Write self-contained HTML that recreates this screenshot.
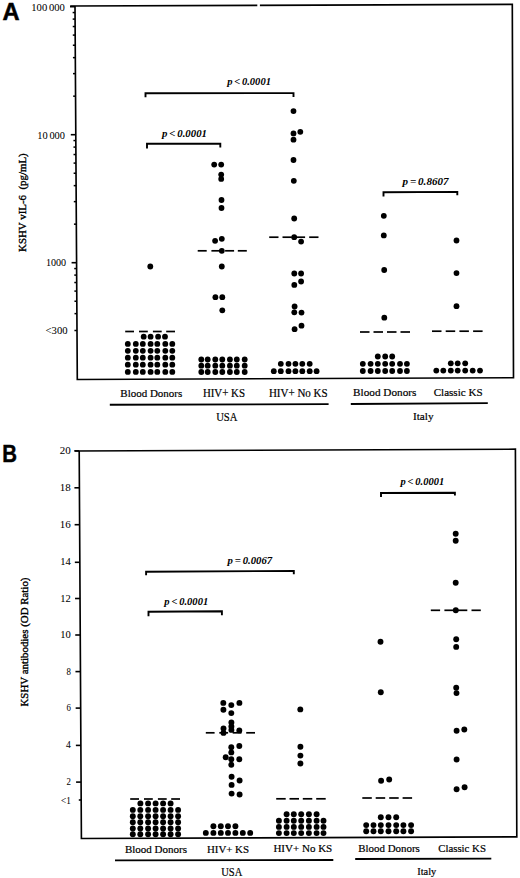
<!DOCTYPE html>
<html><head><meta charset="utf-8"><style>
html,body{margin:0;padding:0;background:#fff;}
svg{display:block;}
</style></head><body>
<svg width="520" height="878" viewBox="0 0 520 878">
<rect width="520" height="878" fill="#fff"/>
<polyline points="70.2,6.0 512.3,4.4 513.5,377.7 77.3,379.5 75.0,6.0" fill="none" stroke="#000" stroke-width="1.65" stroke-linejoin="miter"/>
<rect x="257.3" y="3" width="2.6" height="5" fill="#fff"/>
<line x1="70.00" y1="6.70" x2="75.00" y2="6.70" stroke="#000" stroke-width="1.6"/>
<line x1="70.79" y1="134.70" x2="75.79" y2="134.70" stroke="#000" stroke-width="1.6"/>
<line x1="71.58" y1="262.70" x2="76.58" y2="262.70" stroke="#000" stroke-width="1.6"/>
<line x1="73.94" y1="224.17" x2="76.34" y2="224.17" stroke="#000" stroke-width="1.5"/>
<line x1="73.80" y1="201.63" x2="76.20" y2="201.63" stroke="#000" stroke-width="1.5"/>
<line x1="73.71" y1="185.64" x2="76.11" y2="185.64" stroke="#000" stroke-width="1.5"/>
<line x1="73.63" y1="173.23" x2="76.03" y2="173.23" stroke="#000" stroke-width="1.5"/>
<line x1="73.57" y1="163.10" x2="75.97" y2="163.10" stroke="#000" stroke-width="1.5"/>
<line x1="73.51" y1="154.53" x2="75.91" y2="154.53" stroke="#000" stroke-width="1.5"/>
<line x1="73.47" y1="147.10" x2="75.87" y2="147.10" stroke="#000" stroke-width="1.5"/>
<line x1="73.43" y1="140.56" x2="75.83" y2="140.56" stroke="#000" stroke-width="1.5"/>
<line x1="73.16" y1="96.17" x2="75.56" y2="96.17" stroke="#000" stroke-width="1.5"/>
<line x1="73.02" y1="73.63" x2="75.42" y2="73.63" stroke="#000" stroke-width="1.5"/>
<line x1="72.92" y1="57.64" x2="75.32" y2="57.64" stroke="#000" stroke-width="1.5"/>
<line x1="72.84" y1="45.23" x2="75.24" y2="45.23" stroke="#000" stroke-width="1.5"/>
<line x1="72.78" y1="35.10" x2="75.18" y2="35.10" stroke="#000" stroke-width="1.5"/>
<line x1="72.73" y1="26.53" x2="75.13" y2="26.53" stroke="#000" stroke-width="1.5"/>
<line x1="72.68" y1="19.10" x2="75.08" y2="19.10" stroke="#000" stroke-width="1.5"/>
<line x1="72.64" y1="12.56" x2="75.04" y2="12.56" stroke="#000" stroke-width="1.5"/>
<line x1="74.49" y1="313.64" x2="76.89" y2="313.64" stroke="#000" stroke-width="1.5"/>
<line x1="74.42" y1="301.23" x2="76.82" y2="301.23" stroke="#000" stroke-width="1.5"/>
<line x1="74.36" y1="291.10" x2="76.76" y2="291.10" stroke="#000" stroke-width="1.5"/>
<line x1="74.30" y1="282.53" x2="76.70" y2="282.53" stroke="#000" stroke-width="1.5"/>
<line x1="74.26" y1="275.10" x2="76.66" y2="275.10" stroke="#000" stroke-width="1.5"/>
<line x1="74.22" y1="268.56" x2="76.62" y2="268.56" stroke="#000" stroke-width="1.5"/>
<line x1="74.40" y1="330.50" x2="77.00" y2="330.50" stroke="#000" stroke-width="1.5"/>
<text transform="translate(2.50 19.50) scale(0.9585 1)" font-family='"Liberation Sans", sans-serif' font-weight="bold" font-style="normal" font-size="24.71" fill="#000" stroke="#000" stroke-width="0.5" xml:space="preserve">A</text>
<text transform="translate(31.30 10.50) scale(0.9407 1)" font-family='"Liberation Serif", serif' font-weight="normal" font-style="normal" font-size="11.28" fill="#000" stroke="#000" stroke-width="0.05" xml:space="preserve">100 000</text>
<text transform="translate(37.30 138.70) scale(0.9867 1)" font-family='"Liberation Serif", serif' font-weight="normal" font-style="normal" font-size="10.53" fill="#000" stroke="#000" stroke-width="0.05" xml:space="preserve">10 000</text>
<text transform="translate(45.90 266.00) scale(0.9877 1)" font-family='"Liberation Serif", serif' font-weight="normal" font-style="normal" font-size="10.23" fill="#000" stroke="#000" stroke-width="0.05" xml:space="preserve">1000</text>
<text transform="translate(45.60 333.70) scale(1.0424 1)" font-family='"Liberation Serif", serif' font-weight="normal" font-style="normal" font-size="10.23" fill="#000" stroke="#000" stroke-width="0.05" xml:space="preserve">&lt;300</text>
<text transform="translate(25.80 251.90) rotate(-90) scale(1.0223 1)" font-family='"Liberation Serif", serif' font-weight="normal" font-style="normal" font-size="10.66" fill="#000" stroke="#000" stroke-width="0.35" xml:space="preserve">KSHV vIL-6  (pg/mL)</text>
<text transform="translate(227.16 85.40) scale(0.9486 1)" font-family='"Liberation Serif", serif' font-weight="bold" font-style="italic" font-size="11.13" fill="#000" xml:space="preserve">p &lt; 0.0001</text>
<polyline points="145.5,97.3 145.5,93.25 293.5,93.1 293.5,97.0" fill="none" stroke="#000" stroke-width="1.9" stroke-linejoin="miter"/>
<text transform="translate(162.08 137.30) scale(0.9990 1)" font-family='"Liberation Serif", serif' font-weight="bold" font-style="italic" font-size="10.83" fill="#000" xml:space="preserve">p &lt; 0.0001</text>
<polyline points="147.0,148.6 147.0,143.8 220.3,143.8 220.3,147.6" fill="none" stroke="#000" stroke-width="1.9" stroke-linejoin="miter"/>
<text transform="translate(402.50 184.60) scale(0.9847 1)" font-family='"Liberation Serif", serif' font-weight="bold" font-style="italic" font-size="11.28" fill="#000" xml:space="preserve">p = 0.8607</text>
<polyline points="383.5,196.4 383.5,192.2 457.3,191.9 457.3,195.2" fill="none" stroke="#000" stroke-width="1.9" stroke-linejoin="miter"/>
<circle cx="150.3" cy="266.5" r="2.9"/>
<circle cx="143.7" cy="336.7" r="2.9"/>
<circle cx="150.6" cy="336.7" r="2.9"/>
<circle cx="158.1" cy="336.7" r="2.9"/>
<circle cx="165.0" cy="336.7" r="2.9"/>
<circle cx="127.8" cy="343.9" r="2.9"/>
<circle cx="135.8" cy="343.9" r="2.9"/>
<circle cx="142.8" cy="343.9" r="2.9"/>
<circle cx="150.6" cy="343.9" r="2.9"/>
<circle cx="157.3" cy="343.9" r="2.9"/>
<circle cx="165.3" cy="343.9" r="2.9"/>
<circle cx="172.3" cy="343.9" r="2.9"/>
<circle cx="127.8" cy="350.8" r="2.9"/>
<circle cx="135.8" cy="350.8" r="2.9"/>
<circle cx="142.8" cy="350.8" r="2.9"/>
<circle cx="150.6" cy="350.8" r="2.9"/>
<circle cx="157.3" cy="350.8" r="2.9"/>
<circle cx="165.3" cy="350.8" r="2.9"/>
<circle cx="172.3" cy="350.8" r="2.9"/>
<circle cx="127.8" cy="357.7" r="2.9"/>
<circle cx="135.8" cy="357.7" r="2.9"/>
<circle cx="142.8" cy="357.7" r="2.9"/>
<circle cx="150.6" cy="357.7" r="2.9"/>
<circle cx="157.3" cy="357.7" r="2.9"/>
<circle cx="165.3" cy="357.7" r="2.9"/>
<circle cx="172.3" cy="357.7" r="2.9"/>
<circle cx="127.8" cy="364.7" r="2.9"/>
<circle cx="135.8" cy="364.7" r="2.9"/>
<circle cx="142.8" cy="364.7" r="2.9"/>
<circle cx="150.6" cy="364.7" r="2.9"/>
<circle cx="157.3" cy="364.7" r="2.9"/>
<circle cx="165.3" cy="364.7" r="2.9"/>
<circle cx="172.3" cy="364.7" r="2.9"/>
<circle cx="127.8" cy="371.9" r="2.9"/>
<circle cx="135.8" cy="371.9" r="2.9"/>
<circle cx="142.8" cy="371.9" r="2.9"/>
<circle cx="150.6" cy="371.9" r="2.9"/>
<circle cx="157.3" cy="371.9" r="2.9"/>
<circle cx="165.3" cy="371.9" r="2.9"/>
<circle cx="172.3" cy="371.9" r="2.9"/>
<line x1="125.20" y1="331.50" x2="134.00" y2="331.50" stroke="#000" stroke-width="1.7"/>
<line x1="139.00" y1="331.50" x2="147.80" y2="331.50" stroke="#000" stroke-width="1.7"/>
<line x1="152.90" y1="331.50" x2="161.70" y2="331.50" stroke="#000" stroke-width="1.7"/>
<line x1="166.20" y1="331.50" x2="175.00" y2="331.50" stroke="#000" stroke-width="1.7"/>
<circle cx="214.2" cy="164.6" r="2.9"/>
<circle cx="221.2" cy="164.6" r="2.9"/>
<circle cx="221.2" cy="174.6" r="2.9"/>
<circle cx="221.2" cy="178.9" r="2.9"/>
<circle cx="221.5" cy="200" r="2.9"/>
<circle cx="221.5" cy="208" r="2.9"/>
<circle cx="215.1" cy="240.8" r="2.9"/>
<circle cx="221.8" cy="238.8" r="2.9"/>
<circle cx="221.8" cy="250.8" r="2.9"/>
<circle cx="221.8" cy="266.5" r="2.9"/>
<circle cx="215.4" cy="297.2" r="2.9"/>
<circle cx="222.3" cy="297.2" r="2.9"/>
<circle cx="222.3" cy="310.3" r="2.9"/>
<circle cx="201.3" cy="359.5" r="2.9"/>
<circle cx="207.7" cy="359.5" r="2.9"/>
<circle cx="215.3" cy="359.5" r="2.9"/>
<circle cx="222.3" cy="359.5" r="2.9"/>
<circle cx="229.9" cy="359.5" r="2.9"/>
<circle cx="236.8" cy="359.5" r="2.9"/>
<circle cx="244.7" cy="359.5" r="2.9"/>
<circle cx="201.3" cy="365.7" r="2.9"/>
<circle cx="207.7" cy="365.7" r="2.9"/>
<circle cx="215.3" cy="365.7" r="2.9"/>
<circle cx="222.3" cy="365.7" r="2.9"/>
<circle cx="229.9" cy="365.7" r="2.9"/>
<circle cx="236.8" cy="365.7" r="2.9"/>
<circle cx="244.7" cy="365.7" r="2.9"/>
<circle cx="201.3" cy="372.0" r="2.9"/>
<circle cx="207.7" cy="372.0" r="2.9"/>
<circle cx="215.3" cy="372.0" r="2.9"/>
<circle cx="222.3" cy="372.0" r="2.9"/>
<circle cx="229.9" cy="372.0" r="2.9"/>
<circle cx="236.8" cy="372.0" r="2.9"/>
<circle cx="244.7" cy="372.0" r="2.9"/>
<line x1="197.70" y1="250.80" x2="206.70" y2="250.80" stroke="#000" stroke-width="1.7"/>
<line x1="211.40" y1="250.80" x2="220.40" y2="250.80" stroke="#000" stroke-width="1.7"/>
<line x1="225.10" y1="250.80" x2="234.10" y2="250.80" stroke="#000" stroke-width="1.7"/>
<line x1="237.80" y1="250.80" x2="246.80" y2="250.80" stroke="#000" stroke-width="1.7"/>
<circle cx="293.5" cy="111.1" r="2.9"/>
<circle cx="293.5" cy="133.4" r="2.9"/>
<circle cx="300.3" cy="131.8" r="2.9"/>
<circle cx="293.5" cy="139.7" r="2.9"/>
<circle cx="293.5" cy="160" r="2.9"/>
<circle cx="293.8" cy="180.8" r="2.9"/>
<circle cx="294.2" cy="218.5" r="2.9"/>
<circle cx="294.2" cy="237.2" r="2.9"/>
<circle cx="301.1" cy="241.6" r="2.9"/>
<circle cx="294.3" cy="273.5" r="2.9"/>
<circle cx="301.1" cy="273.5" r="2.9"/>
<circle cx="301.1" cy="281.5" r="2.9"/>
<circle cx="294.3" cy="284.9" r="2.9"/>
<circle cx="294.6" cy="306.5" r="2.9"/>
<circle cx="294.3" cy="312.3" r="2.9"/>
<circle cx="301.5" cy="312.6" r="2.9"/>
<circle cx="301.5" cy="325.7" r="2.9"/>
<circle cx="294.6" cy="329.2" r="2.9"/>
<circle cx="280.8" cy="363.8" r="2.9"/>
<circle cx="288.5" cy="363.8" r="2.9"/>
<circle cx="295.4" cy="363.8" r="2.9"/>
<circle cx="302.3" cy="363.8" r="2.9"/>
<circle cx="309.7" cy="363.8" r="2.9"/>
<circle cx="273.8" cy="371.2" r="2.9"/>
<circle cx="280.8" cy="371.2" r="2.9"/>
<circle cx="288.5" cy="371.2" r="2.9"/>
<circle cx="295.4" cy="371.2" r="2.9"/>
<circle cx="302.3" cy="371.2" r="2.9"/>
<circle cx="309.7" cy="371.2" r="2.9"/>
<circle cx="316.6" cy="371.2" r="2.9"/>
<line x1="269.20" y1="237.20" x2="278.50" y2="237.20" stroke="#000" stroke-width="1.7"/>
<line x1="282.50" y1="237.20" x2="291.80" y2="237.20" stroke="#000" stroke-width="1.7"/>
<line x1="295.80" y1="237.20" x2="305.10" y2="237.20" stroke="#000" stroke-width="1.7"/>
<line x1="309.20" y1="237.20" x2="318.50" y2="237.20" stroke="#000" stroke-width="1.7"/>
<circle cx="383.8" cy="215.8" r="2.9"/>
<circle cx="383.8" cy="235.4" r="2.9"/>
<circle cx="384.2" cy="270.0" r="2.9"/>
<circle cx="384.3" cy="317.7" r="2.9"/>
<circle cx="377.8" cy="356.5" r="2.9"/>
<circle cx="385.2" cy="356.5" r="2.9"/>
<circle cx="392.2" cy="356.5" r="2.9"/>
<circle cx="362.8" cy="363.8" r="2.9"/>
<circle cx="370.6" cy="363.8" r="2.9"/>
<circle cx="377.8" cy="363.8" r="2.9"/>
<circle cx="385.2" cy="363.8" r="2.9"/>
<circle cx="392.2" cy="363.8" r="2.9"/>
<circle cx="400.0" cy="363.8" r="2.9"/>
<circle cx="406.9" cy="363.8" r="2.9"/>
<circle cx="362.8" cy="371.0" r="2.9"/>
<circle cx="370.6" cy="371.0" r="2.9"/>
<circle cx="377.8" cy="371.0" r="2.9"/>
<circle cx="385.2" cy="371.0" r="2.9"/>
<circle cx="392.2" cy="371.0" r="2.9"/>
<circle cx="400.0" cy="371.0" r="2.9"/>
<circle cx="406.9" cy="371.0" r="2.9"/>
<line x1="360.00" y1="332.00" x2="369.50" y2="332.00" stroke="#000" stroke-width="1.7"/>
<line x1="373.50" y1="332.00" x2="383.00" y2="332.00" stroke="#000" stroke-width="1.7"/>
<line x1="387.00" y1="332.00" x2="396.50" y2="332.00" stroke="#000" stroke-width="1.7"/>
<line x1="400.50" y1="332.00" x2="410.00" y2="332.00" stroke="#000" stroke-width="1.7"/>
<circle cx="456.5" cy="240.5" r="2.9"/>
<circle cx="456.5" cy="273.1" r="2.9"/>
<circle cx="456.5" cy="306.2" r="2.9"/>
<circle cx="450.8" cy="363.3" r="2.9"/>
<circle cx="457.7" cy="363.3" r="2.9"/>
<circle cx="465.2" cy="363.3" r="2.9"/>
<circle cx="436.3" cy="370.6" r="2.9"/>
<circle cx="443.3" cy="370.6" r="2.9"/>
<circle cx="450.8" cy="370.6" r="2.9"/>
<circle cx="457.7" cy="370.6" r="2.9"/>
<circle cx="465.2" cy="370.6" r="2.9"/>
<circle cx="472.7" cy="370.6" r="2.9"/>
<circle cx="480.0" cy="370.6" r="2.9"/>
<line x1="432.00" y1="331.20" x2="441.50" y2="331.20" stroke="#000" stroke-width="1.7"/>
<line x1="445.70" y1="331.20" x2="455.20" y2="331.20" stroke="#000" stroke-width="1.7"/>
<line x1="459.40" y1="331.20" x2="468.90" y2="331.20" stroke="#000" stroke-width="1.7"/>
<line x1="473.10" y1="331.20" x2="482.60" y2="331.20" stroke="#000" stroke-width="1.7"/>
<text transform="translate(120.30 397.20) scale(1.0040 1)" font-family='"Liberation Serif", serif' font-weight="normal" font-style="normal" font-size="10.95" fill="#000" stroke="#000" stroke-width="0.2" xml:space="preserve">Blood Donors</text>
<text transform="translate(202.90 397.00) scale(0.9476 1)" font-family='"Liberation Serif", serif' font-weight="normal" font-style="normal" font-size="11.48" fill="#000" stroke="#000" stroke-width="0.2" xml:space="preserve">HIV+ KS</text>
<text transform="translate(268.90 397.20) scale(0.9588 1)" font-family='"Liberation Serif", serif' font-weight="normal" font-style="normal" font-size="11.48" fill="#000" stroke="#000" stroke-width="0.2" xml:space="preserve">HIV+ No KS</text>
<text transform="translate(353.10 395.90) scale(1.0528 1)" font-family='"Liberation Serif", serif' font-weight="normal" font-style="normal" font-size="10.66" fill="#000" stroke="#000" stroke-width="0.2" xml:space="preserve">Blood Donors</text>
<text transform="translate(433.70 395.70) scale(1.0383 1)" font-family='"Liberation Serif", serif' font-weight="normal" font-style="normal" font-size="10.66" fill="#000" stroke="#000" stroke-width="0.2" xml:space="preserve">Classic KS</text>
<line x1="109.80" y1="404.80" x2="328.60" y2="404.10" stroke="#000" stroke-width="1.9"/>
<line x1="350.80" y1="404.00" x2="487.80" y2="403.10" stroke="#000" stroke-width="1.9"/>
<text transform="translate(216.20 420.60) scale(0.9152 1)" font-family='"Liberation Serif", serif' font-weight="normal" font-style="normal" font-size="11.63" fill="#000" stroke="#000" stroke-width="0.2" xml:space="preserve">USA</text>
<text transform="translate(413.00 419.50) scale(1.0129 1)" font-family='"Liberation Serif", serif' font-weight="normal" font-style="normal" font-size="11.10" fill="#000" stroke="#000" stroke-width="0.2" xml:space="preserve">Italy</text>
<polyline points="75.0,451.0 515.4,449.2 516.8,836.9 81.4,838.5 79.2,451.0" fill="none" stroke="#000" stroke-width="1.65" stroke-linejoin="miter"/>
<line x1="74.20" y1="450.90" x2="79.20" y2="450.90" stroke="#000" stroke-width="1.6"/>
<line x1="74.41" y1="487.80" x2="79.41" y2="487.80" stroke="#000" stroke-width="1.6"/>
<line x1="74.62" y1="524.70" x2="79.62" y2="524.70" stroke="#000" stroke-width="1.6"/>
<line x1="74.83" y1="562.30" x2="79.83" y2="562.30" stroke="#000" stroke-width="1.6"/>
<line x1="75.04" y1="598.50" x2="80.04" y2="598.50" stroke="#000" stroke-width="1.6"/>
<line x1="75.24" y1="635.00" x2="80.24" y2="635.00" stroke="#000" stroke-width="1.6"/>
<line x1="75.45" y1="671.60" x2="80.45" y2="671.60" stroke="#000" stroke-width="1.6"/>
<line x1="75.66" y1="708.10" x2="80.66" y2="708.10" stroke="#000" stroke-width="1.6"/>
<line x1="75.87" y1="745.40" x2="80.87" y2="745.40" stroke="#000" stroke-width="1.6"/>
<line x1="76.08" y1="782.10" x2="81.08" y2="782.10" stroke="#000" stroke-width="1.6"/>
<line x1="78.78" y1="800.00" x2="81.18" y2="800.00" stroke="#000" stroke-width="1.6"/>
<text transform="translate(2.30 461.80) scale(0.8240 1)" font-family='"Liberation Sans", sans-serif' font-weight="bold" font-style="normal" font-size="24.71" fill="#000" stroke="#000" stroke-width="0.5" xml:space="preserve">B</text>
<text transform="translate(59.80 453.90) scale(0.9885 1)" font-family='"Liberation Serif", serif' font-weight="normal" font-style="normal" font-size="11.13" fill="#000" stroke="#000" stroke-width="0.05" xml:space="preserve">20</text>
<text transform="translate(59.80 490.80) scale(0.9885 1)" font-family='"Liberation Serif", serif' font-weight="normal" font-style="normal" font-size="11.13" fill="#000" stroke="#000" stroke-width="0.05" xml:space="preserve">18</text>
<text transform="translate(59.80 527.70) scale(0.9841 1)" font-family='"Liberation Serif", serif' font-weight="normal" font-style="normal" font-size="11.18" fill="#000" stroke="#000" stroke-width="0.05" xml:space="preserve">16</text>
<text transform="translate(60.20 565.30) scale(0.9454 1)" font-family='"Liberation Serif", serif' font-weight="normal" font-style="normal" font-size="11.21" fill="#000" stroke="#000" stroke-width="0.05" xml:space="preserve">14</text>
<text transform="translate(60.20 601.50) scale(0.9483 1)" font-family='"Liberation Serif", serif' font-weight="normal" font-style="normal" font-size="11.18" fill="#000" stroke="#000" stroke-width="0.05" xml:space="preserve">12</text>
<text transform="translate(60.20 638.00) scale(0.9526 1)" font-family='"Liberation Serif", serif' font-weight="normal" font-style="normal" font-size="11.13" fill="#000" stroke="#000" stroke-width="0.05" xml:space="preserve">10</text>
<text transform="translate(66.40 674.60) scale(0.7908 1)" font-family='"Liberation Serif", serif' font-weight="normal" font-style="normal" font-size="11.13" fill="#000" stroke="#000" stroke-width="0.05" xml:space="preserve">8</text>
<text transform="translate(66.40 711.10) scale(0.7872 1)" font-family='"Liberation Serif", serif' font-weight="normal" font-style="normal" font-size="11.18" fill="#000" stroke="#000" stroke-width="0.05" xml:space="preserve">6</text>
<text transform="translate(66.00 748.40) scale(0.8536 1)" font-family='"Liberation Serif", serif' font-weight="normal" font-style="normal" font-size="11.25" fill="#000" stroke="#000" stroke-width="0.05" xml:space="preserve">4</text>
<text transform="translate(66.40 785.10) scale(0.7872 1)" font-family='"Liberation Serif", serif' font-weight="normal" font-style="normal" font-size="11.18" fill="#000" stroke="#000" stroke-width="0.05" xml:space="preserve">2</text>
<text transform="translate(61.00 804.20) scale(0.8443 1)" font-family='"Liberation Serif", serif' font-weight="normal" font-style="normal" font-size="10.91" fill="#000" stroke="#000" stroke-width="0.05" xml:space="preserve">&lt;1</text>
<text transform="translate(28.10 706.50) rotate(-90) scale(1.0088 1)" font-family='"Liberation Serif", serif' font-weight="normal" font-style="normal" font-size="10.81" fill="#000" stroke="#000" stroke-width="0.35" xml:space="preserve">KSHV antibodies (OD Ratio)</text>
<text transform="translate(400.56 485.40) scale(0.9983 1)" font-family='"Liberation Serif", serif' font-weight="bold" font-style="italic" font-size="10.53" fill="#000" xml:space="preserve">p &lt; 0.0001</text>
<polyline points="381.0,496.90000000000003 381.0,493.0 454.9,492.7 454.9,495.40000000000003" fill="none" stroke="#000" stroke-width="1.9" stroke-linejoin="miter"/>
<text transform="translate(227.57 563.50) scale(0.9932 1)" font-family='"Liberation Serif", serif' font-weight="bold" font-style="italic" font-size="10.83" fill="#000" xml:space="preserve">p = 0.0067</text>
<polyline points="146.1,575.3000000000001 146.1,571.75 293.8,570.9 293.8,574.3000000000001" fill="none" stroke="#000" stroke-width="1.9" stroke-linejoin="miter"/>
<text transform="translate(164.36 604.80) scale(0.9616 1)" font-family='"Liberation Serif", serif' font-weight="bold" font-style="italic" font-size="10.98" fill="#000" xml:space="preserve">p &lt; 0.0001</text>
<polyline points="148.5,616.3000000000001 148.5,611.8 221.9,611.25 221.9,615.2" fill="none" stroke="#000" stroke-width="1.9" stroke-linejoin="miter"/>
<circle cx="140.4" cy="803.4" r="2.95"/>
<circle cx="148.1" cy="803.4" r="2.95"/>
<circle cx="155.6" cy="803.4" r="2.95"/>
<circle cx="163.1" cy="803.4" r="2.95"/>
<circle cx="170.6" cy="803.4" r="2.95"/>
<circle cx="132.8" cy="809.9" r="2.95"/>
<circle cx="140.3" cy="809.9" r="2.95"/>
<circle cx="148.1" cy="809.9" r="2.95"/>
<circle cx="155.6" cy="809.9" r="2.95"/>
<circle cx="163.1" cy="809.9" r="2.95"/>
<circle cx="170.6" cy="809.9" r="2.95"/>
<circle cx="178.1" cy="809.9" r="2.95"/>
<circle cx="132.8" cy="816.2" r="2.95"/>
<circle cx="140.3" cy="816.2" r="2.95"/>
<circle cx="148.1" cy="816.2" r="2.95"/>
<circle cx="155.6" cy="816.2" r="2.95"/>
<circle cx="163.1" cy="816.2" r="2.95"/>
<circle cx="170.6" cy="816.2" r="2.95"/>
<circle cx="178.1" cy="816.2" r="2.95"/>
<circle cx="132.8" cy="822.2" r="2.95"/>
<circle cx="140.3" cy="822.2" r="2.95"/>
<circle cx="148.1" cy="822.2" r="2.95"/>
<circle cx="155.6" cy="822.2" r="2.95"/>
<circle cx="163.1" cy="822.2" r="2.95"/>
<circle cx="170.6" cy="822.2" r="2.95"/>
<circle cx="178.1" cy="822.2" r="2.95"/>
<circle cx="132.8" cy="828.5" r="2.95"/>
<circle cx="140.3" cy="828.5" r="2.95"/>
<circle cx="148.1" cy="828.5" r="2.95"/>
<circle cx="155.6" cy="828.5" r="2.95"/>
<circle cx="163.1" cy="828.5" r="2.95"/>
<circle cx="170.6" cy="828.5" r="2.95"/>
<circle cx="178.1" cy="828.5" r="2.95"/>
<circle cx="132.8" cy="834.3" r="2.95"/>
<circle cx="140.3" cy="834.3" r="2.95"/>
<circle cx="148.1" cy="834.3" r="2.95"/>
<circle cx="155.6" cy="834.3" r="2.95"/>
<circle cx="163.1" cy="834.3" r="2.95"/>
<circle cx="170.6" cy="834.3" r="2.95"/>
<circle cx="178.1" cy="834.3" r="2.95"/>
<line x1="130.20" y1="799.00" x2="139.00" y2="799.00" stroke="#000" stroke-width="1.7"/>
<line x1="144.00" y1="799.00" x2="152.80" y2="799.00" stroke="#000" stroke-width="1.7"/>
<line x1="157.90" y1="799.00" x2="166.70" y2="799.00" stroke="#000" stroke-width="1.7"/>
<line x1="171.20" y1="799.00" x2="180.00" y2="799.00" stroke="#000" stroke-width="1.7"/>
<circle cx="223.3" cy="702.9" r="2.95"/>
<circle cx="231.3" cy="705.1" r="2.95"/>
<circle cx="239.4" cy="702.9" r="2.95"/>
<circle cx="223.4" cy="709.8" r="2.95"/>
<circle cx="231.3" cy="713.1" r="2.95"/>
<circle cx="231.4" cy="722.5" r="2.95"/>
<circle cx="231.4" cy="726.4" r="2.95"/>
<circle cx="231.4" cy="729.9" r="2.95"/>
<circle cx="223.5" cy="728.4" r="2.95"/>
<circle cx="223.5" cy="732.9" r="2.95"/>
<circle cx="239.3" cy="730.4" r="2.95"/>
<circle cx="231.3" cy="747.2" r="2.95"/>
<circle cx="239.3" cy="746.0" r="2.95"/>
<circle cx="231.3" cy="752.4" r="2.95"/>
<circle cx="225.7" cy="757.3" r="2.95"/>
<circle cx="231.3" cy="759.3" r="2.95"/>
<circle cx="239.3" cy="759.3" r="2.95"/>
<circle cx="231.3" cy="764.8" r="2.95"/>
<circle cx="231.6" cy="776.7" r="2.95"/>
<circle cx="239.6" cy="780.5" r="2.95"/>
<circle cx="231.6" cy="784.9" r="2.95"/>
<circle cx="231.6" cy="793.6" r="2.95"/>
<circle cx="239.6" cy="794.5" r="2.95"/>
<circle cx="213.4" cy="826.3" r="2.95"/>
<circle cx="220.8" cy="826.3" r="2.95"/>
<circle cx="228.0" cy="826.3" r="2.95"/>
<circle cx="235.4" cy="826.3" r="2.95"/>
<circle cx="205.8" cy="832.9" r="2.95"/>
<circle cx="213.4" cy="832.9" r="2.95"/>
<circle cx="220.8" cy="832.9" r="2.95"/>
<circle cx="228.0" cy="832.9" r="2.95"/>
<circle cx="235.4" cy="832.9" r="2.95"/>
<circle cx="242.8" cy="832.9" r="2.95"/>
<circle cx="250.2" cy="832.9" r="2.95"/>
<line x1="205.80" y1="732.80" x2="214.60" y2="732.80" stroke="#000" stroke-width="1.7"/>
<line x1="219.30" y1="732.80" x2="228.10" y2="732.80" stroke="#000" stroke-width="1.7"/>
<line x1="232.70" y1="732.80" x2="241.50" y2="732.80" stroke="#000" stroke-width="1.7"/>
<line x1="246.20" y1="732.80" x2="255.00" y2="732.80" stroke="#000" stroke-width="1.7"/>
<circle cx="300.3" cy="709.4" r="2.95"/>
<circle cx="300.4" cy="746.8" r="2.95"/>
<circle cx="300.4" cy="755.6" r="2.95"/>
<circle cx="300.4" cy="763.5" r="2.95"/>
<circle cx="286.6" cy="814.2" r="2.95"/>
<circle cx="293.8" cy="814.2" r="2.95"/>
<circle cx="301.2" cy="814.2" r="2.95"/>
<circle cx="308.9" cy="814.2" r="2.95"/>
<circle cx="316.6" cy="814.2" r="2.95"/>
<circle cx="278.9" cy="820.8" r="2.95"/>
<circle cx="286.6" cy="820.8" r="2.95"/>
<circle cx="293.8" cy="820.8" r="2.95"/>
<circle cx="301.2" cy="820.8" r="2.95"/>
<circle cx="308.9" cy="820.8" r="2.95"/>
<circle cx="316.6" cy="820.8" r="2.95"/>
<circle cx="323.5" cy="820.8" r="2.95"/>
<circle cx="278.9" cy="826.9" r="2.95"/>
<circle cx="286.6" cy="826.9" r="2.95"/>
<circle cx="293.8" cy="826.9" r="2.95"/>
<circle cx="301.2" cy="826.9" r="2.95"/>
<circle cx="308.9" cy="826.9" r="2.95"/>
<circle cx="316.6" cy="826.9" r="2.95"/>
<circle cx="323.5" cy="826.9" r="2.95"/>
<circle cx="278.9" cy="833.1" r="2.95"/>
<circle cx="286.6" cy="833.1" r="2.95"/>
<circle cx="293.8" cy="833.1" r="2.95"/>
<circle cx="301.2" cy="833.1" r="2.95"/>
<circle cx="308.9" cy="833.1" r="2.95"/>
<circle cx="316.6" cy="833.1" r="2.95"/>
<circle cx="323.5" cy="833.1" r="2.95"/>
<line x1="276.20" y1="798.80" x2="285.70" y2="798.80" stroke="#000" stroke-width="1.7"/>
<line x1="289.50" y1="798.80" x2="299.00" y2="798.80" stroke="#000" stroke-width="1.7"/>
<line x1="302.80" y1="798.80" x2="312.30" y2="798.80" stroke="#000" stroke-width="1.7"/>
<line x1="316.20" y1="798.80" x2="325.70" y2="798.80" stroke="#000" stroke-width="1.7"/>
<circle cx="380.5" cy="641.8" r="2.95"/>
<circle cx="380.8" cy="692.3" r="2.95"/>
<circle cx="381.1" cy="780.8" r="2.95"/>
<circle cx="389.2" cy="779.5" r="2.95"/>
<circle cx="380.8" cy="817.2" r="2.95"/>
<circle cx="388.5" cy="817.2" r="2.95"/>
<circle cx="396.2" cy="817.2" r="2.95"/>
<circle cx="366.2" cy="825.1" r="2.95"/>
<circle cx="373.5" cy="825.1" r="2.95"/>
<circle cx="380.8" cy="825.1" r="2.95"/>
<circle cx="388.5" cy="825.1" r="2.95"/>
<circle cx="396.2" cy="825.1" r="2.95"/>
<circle cx="403.4" cy="825.1" r="2.95"/>
<circle cx="411.1" cy="825.1" r="2.95"/>
<circle cx="366.2" cy="831.2" r="2.95"/>
<circle cx="373.5" cy="831.2" r="2.95"/>
<circle cx="380.8" cy="831.2" r="2.95"/>
<circle cx="388.5" cy="831.2" r="2.95"/>
<circle cx="396.2" cy="831.2" r="2.95"/>
<circle cx="403.4" cy="831.2" r="2.95"/>
<circle cx="411.1" cy="831.2" r="2.95"/>
<line x1="362.30" y1="798.00" x2="371.80" y2="798.00" stroke="#000" stroke-width="1.7"/>
<line x1="375.70" y1="798.00" x2="385.20" y2="798.00" stroke="#000" stroke-width="1.7"/>
<line x1="389.20" y1="798.00" x2="398.70" y2="798.00" stroke="#000" stroke-width="1.7"/>
<line x1="402.60" y1="798.00" x2="412.10" y2="798.00" stroke="#000" stroke-width="1.7"/>
<circle cx="455.7" cy="533.8" r="2.95"/>
<circle cx="455.7" cy="540.8" r="2.95"/>
<circle cx="455.7" cy="582.8" r="2.95"/>
<circle cx="455.8" cy="610.3" r="2.95"/>
<circle cx="456.2" cy="639.2" r="2.95"/>
<circle cx="456.2" cy="646.9" r="2.95"/>
<circle cx="456.2" cy="687.7" r="2.95"/>
<circle cx="456.5" cy="693.1" r="2.95"/>
<circle cx="456.6" cy="730.8" r="2.95"/>
<circle cx="464.3" cy="729.5" r="2.95"/>
<circle cx="456.6" cy="759.5" r="2.95"/>
<circle cx="456.6" cy="789.2" r="2.95"/>
<circle cx="464.6" cy="787.2" r="2.95"/>
<line x1="430.80" y1="610.30" x2="440.10" y2="610.30" stroke="#000" stroke-width="1.7"/>
<line x1="444.40" y1="610.30" x2="453.70" y2="610.30" stroke="#000" stroke-width="1.7"/>
<line x1="458.00" y1="610.30" x2="467.30" y2="610.30" stroke="#000" stroke-width="1.7"/>
<line x1="471.50" y1="610.30" x2="480.80" y2="610.30" stroke="#000" stroke-width="1.7"/>
<text transform="translate(124.90 852.80) scale(1.0615 1)" font-family='"Liberation Serif", serif' font-weight="normal" font-style="normal" font-size="10.37" fill="#000" stroke="#000" stroke-width="0.2" xml:space="preserve">Blood Donors</text>
<text transform="translate(206.90 852.60) scale(1.0026 1)" font-family='"Liberation Serif", serif' font-weight="normal" font-style="normal" font-size="10.88" fill="#000" stroke="#000" stroke-width="0.2" xml:space="preserve">HIV+ KS</text>
<text transform="translate(273.40 852.40) scale(1.0138 1)" font-family='"Liberation Serif", serif' font-weight="normal" font-style="normal" font-size="10.88" fill="#000" stroke="#000" stroke-width="0.2" xml:space="preserve">HIV+ No KS</text>
<text transform="translate(358.30 852.20) scale(1.0245 1)" font-family='"Liberation Serif", serif' font-weight="normal" font-style="normal" font-size="10.66" fill="#000" stroke="#000" stroke-width="0.2" xml:space="preserve">Blood Donors</text>
<text transform="translate(438.20 851.80) scale(1.0431 1)" font-family='"Liberation Serif", serif' font-weight="normal" font-style="normal" font-size="10.37" fill="#000" stroke="#000" stroke-width="0.2" xml:space="preserve">Classic KS</text>
<line x1="115.00" y1="860.40" x2="333.30" y2="860.00" stroke="#000" stroke-width="1.8"/>
<line x1="355.20" y1="859.00" x2="491.30" y2="858.60" stroke="#000" stroke-width="1.8"/>
<text transform="translate(221.20 876.00) scale(0.9066 1)" font-family='"Liberation Serif", serif' font-weight="normal" font-style="normal" font-size="11.63" fill="#000" stroke="#000" stroke-width="0.2" xml:space="preserve">USA</text>
<text transform="translate(417.20 874.60) scale(0.9772 1)" font-family='"Liberation Serif", serif' font-weight="normal" font-style="normal" font-size="10.66" fill="#000" stroke="#000" stroke-width="0.2" xml:space="preserve">Italy</text>
</svg>
</body></html>
